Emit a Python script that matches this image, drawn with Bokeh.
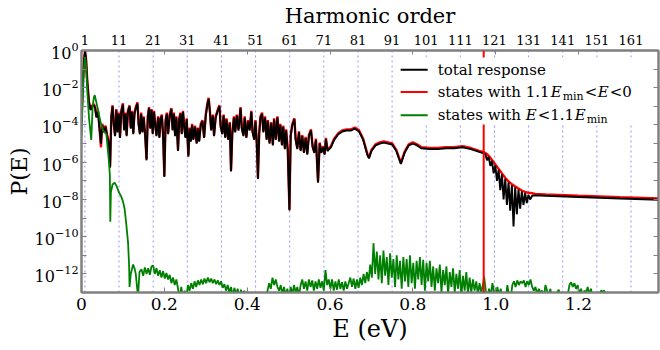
import numpy as np
from bokeh.plotting import figure
from bokeh.models import (FixedTicker, LinearAxis, LogAxis, Span, Label, BoxAnnotation,
                          Arrow, CustomJSTickFormatter, Range1d, LogTickFormatter)
from bokeh.embed import file_html
from bokeh.resources import INLINE

# ---------------- data ----------------
energy_total = [
    0.000, 0.003, 0.006, 0.0085, 0.011, 0.014, 0.018, 0.022, 0.026, 0.030,
    0.033, 0.036, 0.040, 0.043, 0.047, 0.050, 0.054, 0.058, 0.062, 0.066,
    0.069, 0.072, 0.075, 0.078, 0.081, 0.084, 0.087, 0.090, 0.093, 0.096,
    0.100, 0.103, 0.106, 0.109, 0.112, 0.116, 0.119, 0.122, 0.125, 0.128,
    0.131, 0.135, 0.138, 0.141, 0.144, 0.147, 0.150, 0.154, 0.157, 0.160,
    0.163, 0.166, 0.169, 0.172, 0.175, 0.178, 0.181, 0.185, 0.188, 0.191,
    0.194, 0.197, 0.200, 0.203, 0.206, 0.209, 0.213, 0.217, 0.220, 0.223,
    0.226, 0.229, 0.233, 0.236, 0.239, 0.242, 0.245, 0.248, 0.251, 0.254,
    0.258, 0.261, 0.264, 0.267, 0.270, 0.274, 0.278, 0.281, 0.284, 0.288,
    0.292, 0.296, 0.300, 0.304, 0.307, 0.310, 0.313, 0.317, 0.320, 0.324,
    0.328, 0.333, 0.336, 0.340, 0.343, 0.347, 0.350, 0.354, 0.358, 0.361,
    0.364, 0.368, 0.371, 0.375, 0.379, 0.384, 0.387, 0.391, 0.394, 0.398,
    0.402, 0.406, 0.410, 0.413, 0.417, 0.420, 0.423, 0.426, 0.429, 0.432,
    0.436, 0.439, 0.443, 0.447, 0.450, 0.454, 0.458, 0.462, 0.465, 0.469,
    0.473, 0.477, 0.480, 0.484, 0.487, 0.491, 0.494, 0.498, 0.502, 0.505,
    0.509, 0.514, 0.517, 0.521, 0.525, 0.529, 0.533, 0.537, 0.541, 0.545,
    0.549, 0.554, 0.558, 0.562, 0.566, 0.571, 0.575, 0.579, 0.583, 0.587,
    0.590, 0.594, 0.598, 0.602, 0.610, 0.620, 0.630, 0.640, 0.650, 0.660,
    0.670, 0.680, 0.690, 0.694, 0.700, 0.710, 0.720, 0.730, 0.740, 0.750,
    0.760, 0.771, 0.780, 0.790, 0.800, 0.810, 0.820, 0.840, 0.860, 0.880,
    0.900, 0.920, 0.940, 0.960, 0.971, 0.975, 0.979, 0.983, 0.987, 0.991,
    0.995, 0.999, 1.003, 1.007, 1.011, 1.015, 1.019, 1.023, 1.027, 1.031,
    1.035, 1.039, 1.043, 1.047, 1.051, 1.055, 1.059, 1.063, 1.067, 1.071,
    1.075, 1.079, 1.083, 1.088, 1.095, 1.120, 1.200, 1.300, 1.395,
]

# log10 of P(E), total response (black)
log10_total = [
    -3.8, -1.9, -0.6, -0.05, -0.5, -1.7, -2.8, -3.2, -3.0, -2.95,
    -3.1, -3.6, -3.3, -4.1, -5.0, -4.0, -4.4, -4.1, -4.6, -5.0,
    -6.3, -3.6, -3.0, -4.0, -4.6, -3.2, -4.4, -3.4, -4.7, -3.3,
    -2.9, -4.3, -3.4, -4.6, -3.3, -3.0, -4.2, -3.3, -4.5, -3.4,
    -3.1, -2.85, -4.0, -4.5, -3.4, -4.4, -3.6, -4.7, -5.9, -3.6,
    -3.1, -4.2, -3.2, -4.5, -3.3, -4.0, -4.6, -3.6, -4.7, -3.7,
    -3.5, -4.6, -6.8, -3.8, -3.4, -4.5, -3.5, -3.15, -4.3, -3.4,
    -4.6, -3.6, -5.4, -3.7, -3.4, -4.5, -3.3, -4.1, -4.7, -3.7,
    -5.7, -4.2, -4.9, -4.0, -4.8, -4.1, -5.0, -4.2, -4.9, -4.0,
    -3.8, -4.7, -3.5, -2.9, -2.6, -3.3, -4.3, -3.5, -4.6, -3.6,
    -3.3, -3.0, -4.1, -4.5, -3.5, -4.7, -3.7, -4.8, -3.9, -6.5,
    -4.5, -3.6, -4.4, -3.5, -4.3, -3.1, -4.2, -4.6, -3.6, -4.7,
    -3.8, -4.3, -3.3, -4.4, -4.8, -3.8, -4.9, -6.9, -4.5, -3.6,
    -3.4, -4.4, -3.6, -4.8, -3.8, -5.0, -3.9, -5.1, -3.7, -4.8,
    -3.6, -4.9, -4.0, -5.1, -4.1, -5.3, -4.3, -5.4, -8.6, -4.6,
    -4.0, -3.7, -4.8, -5.3, -4.4, -5.4, -4.6, -5.5, -4.7, -5.6,
    -4.6, -4.3, -5.2, -5.5, -4.8, -7.1, -5.0, -5.5, -5.2, -5.6,
    -4.75, -5.4, -5.3, -5.2, -4.8, -4.5, -4.35, -4.3, -4.3, -4.2,
    -4.35, -4.8, -5.6, -5.8, -5.4, -5.1, -5.0, -4.95, -5.0, -5.05,
    -5.4, -6.1, -5.5, -5.1, -5.0, -5.1, -5.25, -5.3, -5.3, -5.25,
    -5.25, -5.2, -5.3, -5.45, -5.52, -5.57, -5.9, -5.72, -6.2, -5.93,
    -6.6, -6.17, -7.0, -6.41, -7.5, -6.65, -8.0, -6.89, -8.3, -7.08,
    -8.6, -7.23, -9.45, -7.35, -8.8, -7.47, -8.5, -7.57, -8.3, -7.65,
    -8.2, -7.75, -8.0, -7.8, -7.78, -7.8, -7.87, -7.95, -8.02,
]

# log10 of P(E), states with 1.1 E_min < E < 0 (red)
log10_excited = [
    -3.7, -1.8, -0.55, -0.02, -0.45, -1.65, -2.75, -3.15, -2.95, -2.88,
    -3.04, -3.54, -3.24, -4.04, -5.2, -3.94, -4.34, -4.04, -4.54, -4.94,
    -6.24, -3.54, -2.94, -3.94, -4.54, -3.14, -4.34, -3.34, -4.64, -3.24,
    -2.84, -4.24, -3.34, -4.54, -3.24, -2.94, -4.14, -3.24, -4.44, -3.34,
    -3.04, -2.79, -3.94, -4.44, -3.34, -4.34, -3.54, -4.64, -5.84, -3.54,
    -3.04, -4.14, -3.14, -4.44, -3.24, -3.94, -4.54, -3.54, -4.64, -3.64,
    -3.44, -4.54, -6.74, -3.74, -3.34, -4.44, -3.44, -3.09, -4.24, -3.34,
    -4.54, -3.54, -5.34, -3.64, -3.34, -4.44, -3.24, -4.04, -4.64, -3.64,
    -5.64, -4.14, -4.84, -3.94, -4.74, -4.04, -4.94, -4.14, -4.84, -3.94,
    -3.74, -4.64, -3.44, -2.84, -2.54, -3.24, -4.24, -3.44, -4.54, -3.54,
    -3.24, -2.94, -4.04, -4.44, -3.44, -4.64, -3.64, -4.74, -3.84, -6.44,
    -4.44, -3.54, -4.34, -3.44, -4.24, -3.04, -4.14, -4.54, -3.54, -4.64,
    -3.74, -4.24, -3.24, -4.34, -4.74, -3.74, -4.84, -6.84, -4.44, -3.54,
    -3.34, -4.34, -3.54, -4.74, -3.74, -4.94, -3.84, -5.04, -3.64, -4.74,
    -3.54, -4.84, -3.94, -5.04, -4.04, -5.24, -4.24, -5.34, -8.54, -4.54,
    -3.94, -3.64, -4.74, -5.24, -4.34, -5.34, -4.54, -5.44, -4.64, -5.54,
    -4.54, -4.24, -5.14, -5.44, -4.74, -7.04, -4.94, -5.44, -5.14, -5.54,
    -4.69, -5.34, -5.24, -5.14, -4.74, -4.44, -4.29, -4.24, -4.24, -4.14,
    -4.29, -4.74, -5.54, -5.74, -5.34, -5.04, -4.94, -4.89, -4.94, -4.99,
    -5.34, -6.04, -5.44, -5.04, -4.94, -5.04, -5.19, -5.24, -5.24, -5.19,
    -5.19, -5.14, -5.24, -5.39, -5.46, -5.51, -5.57, -5.66, -5.76, -5.88,
    -6.0, -6.12, -6.24, -6.36, -6.48, -6.6, -6.72, -6.84, -6.95, -7.03,
    -7.11, -7.18, -7.24, -7.3, -7.36, -7.42, -7.47, -7.52, -7.56, -7.6,
    -7.62, -7.64, -7.65, -7.67, -7.7, -7.73, -7.8, -7.88, -7.95,
]

energy_ground = [
    0.000, 0.003, 0.006, 0.0085, 0.011, 0.014, 0.018, 0.0235, 0.027, 0.030,
    0.032, 0.036, 0.040, 0.0466, 0.052, 0.056, 0.060, 0.063, 0.066, 0.0685,
    0.0695, 0.071, 0.075, 0.080, 0.085, 0.090, 0.096, 0.100, 0.104, 0.108,
    0.1125, 0.115, 0.116, 0.119, 0.1245, 0.128, 0.131, 0.1345, 0.1365, 0.140,
    0.1446, 0.149, 0.153, 0.157, 0.161, 0.165, 0.169, 0.173, 0.177, 0.181,
    0.185, 0.189, 0.193, 0.197, 0.201, 0.205, 0.209, 0.213, 0.217, 0.221,
    0.225, 0.229, 0.233, 0.237, 0.241, 0.245, 0.249, 0.253, 0.257, 0.261,
    0.265, 0.269, 0.273, 0.277, 0.281, 0.285, 0.289, 0.293, 0.297, 0.301,
    0.305, 0.309, 0.313, 0.317, 0.321, 0.325, 0.329, 0.333, 0.337, 0.341,
    0.345, 0.349, 0.353, 0.357, 0.361, 0.365, 0.369, 0.373, 0.377, 0.381,
    0.385, 0.389, 0.393, 0.397, 0.401, 0.405, 0.410, 0.420, 0.430, 0.445,
    0.449, 0.453, 0.457, 0.461, 0.465, 0.469, 0.473, 0.477, 0.481, 0.485,
    0.489, 0.493, 0.497, 0.501, 0.505, 0.509, 0.513, 0.517, 0.521, 0.525,
    0.529, 0.533, 0.537, 0.541, 0.545, 0.549, 0.553, 0.557, 0.561, 0.565,
    0.569, 0.573, 0.577, 0.581, 0.585, 0.589, 0.593, 0.597, 0.601, 0.605,
    0.609, 0.613, 0.617, 0.621, 0.625, 0.629, 0.633, 0.637, 0.641, 0.645,
    0.649, 0.653, 0.657, 0.661, 0.665, 0.669, 0.673, 0.677, 0.681, 0.685,
    0.689, 0.693, 0.697, 0.701, 0.705, 0.709, 0.713, 0.717, 0.721, 0.725,
    0.729, 0.733, 0.737, 0.741, 0.745, 0.749, 0.753, 0.757, 0.761, 0.765,
    0.769, 0.773, 0.777, 0.781, 0.785, 0.789, 0.793, 0.797, 0.801, 0.805,
    0.809, 0.813, 0.817, 0.821, 0.825, 0.829, 0.833, 0.837, 0.841, 0.845,
    0.849, 0.853, 0.857, 0.861, 0.865, 0.869, 0.873, 0.877, 0.881, 0.885,
    0.889, 0.893, 0.897, 0.901, 0.905, 0.909, 0.913, 0.917, 0.921, 0.925,
    0.929, 0.933, 0.937, 0.941, 0.945, 0.949, 0.953, 0.957, 0.961, 0.965,
    0.969, 0.972, 0.976, 0.980, 0.984, 0.988, 0.992, 0.996, 1.000, 1.004,
    1.008, 1.012, 1.016, 1.020, 1.024, 1.028, 1.032, 1.036, 1.040, 1.044,
    1.048, 1.052, 1.056, 1.060, 1.064, 1.068, 1.072, 1.076, 1.080, 1.084,
    1.088, 1.092, 1.096, 1.100, 1.104, 1.108, 1.112, 1.116, 1.120, 1.124,
    1.128, 1.132, 1.136, 1.142, 1.148, 1.152, 1.156, 1.160, 1.168, 1.174,
    1.178, 1.182, 1.186, 1.190, 1.194, 1.198, 1.202, 1.206, 1.210, 1.214,
    1.218, 1.222, 1.226, 1.230, 1.234, 1.240, 1.250, 1.254, 1.258, 1.262,
    1.266, 1.272, 1.300, 1.395,
]

# log10 of P(E), states with E < 1.1 E_min (green)
log10_ground = [
    -4.6, -2.5, -0.9, -0.35, -0.8, -2.2, -3.6, -4.8, -3.0, -2.5,
    -2.4, -2.8, -3.2, -3.9, -4.3, -4.4, -4.5, -5.2, -5.9, -6.7,
    -9.2, -7.6, -7.2, -7.1, -7.3, -7.6, -7.85, -8.1, -8.5, -9.3,
    -10.35, -11.6, -12.7, -12.0, -11.5, -11.7, -12.0, -12.8, -13.2, -11.9,
    -11.75, -12.1, -11.65, -12.0, -11.7, -12.05, -11.6, -11.55, -12.0, -11.7,
    -12.1, -11.8, -12.2, -11.85, -12.25, -11.95, -12.3, -12.05, -12.5, -12.2,
    -12.6, -12.3, -12.8, -13.3, -12.7, -13.4, -12.9, -13.3, -12.6, -12.9,
    -12.5, -12.8, -12.4, -12.7, -12.35, -12.6, -12.3, -12.55, -12.25, -12.5,
    -12.2, -12.45, -12.25, -12.5, -12.3, -12.55, -12.35, -12.6, -12.4, -12.75,
    -12.55, -12.9, -12.6, -13.0, -12.7, -13.2, -12.75, -13.1, -12.8, -13.3,
    -12.85, -13.2, -12.9, -13.4, -12.95, -13.5, -13.6, -13.6, -13.6, -13.5,
    -12.9, -12.5, -12.8, -12.2, -12.6, -12.3, -12.7, -12.9, -12.6, -13.1,
    -12.7, -13.2, -12.8, -13.3, -12.7, -13.1, -12.6, -13.0, -12.7, -13.2,
    -12.6, -12.3, -12.8, -12.4, -12.9, -12.3, -12.7, -12.35, -12.9, -12.4,
    -12.8, -12.3, -12.75, -12.4, -12.9, -11.8, -12.6, -12.3, -12.8, -12.3,
    -12.9, -12.4, -12.85, -12.3, -12.8, -12.45, -12.9, -12.4, -12.8, -12.5,
    -12.2, -12.7, -12.25, -12.8, -12.3, -12.75, -12.2, -12.6, -12.0, -12.5,
    -11.9, -12.4, -11.5, -12.2, -10.35, -12.0, -10.8, -12.3, -11.0, -12.5,
    -10.75, -12.1, -11.1, -12.6, -10.9, -12.2, -11.2, -12.7, -11.0, -12.3,
    -11.3, -12.8, -11.1, -12.4, -11.2, -12.7, -11.0, -12.5, -11.4, -12.8,
    -11.3, -12.3, -11.1, -12.6, -11.25, -12.9, -11.4, -12.4, -11.3, -12.7,
    -11.6, -12.9, -11.7, -12.5, -11.5, -13.0, -11.8, -12.6, -11.6, -13.1,
    -11.9, -12.7, -11.7, -13.0, -12.0, -12.8, -11.8, -13.2, -12.1, -12.9,
    -11.9, -13.1, -12.2, -13.0, -12.3, -12.9, -12.4, -13.1, -12.5, -13.0,
    -12.6, -12.15, -12.9, -13.3, -12.8, -13.2, -12.5, -13.0, -13.4, -12.7,
    -13.2, -12.8, -13.3, -13.0, -13.5, -12.6, -13.1, -13.4, -12.6, -12.4,
    -12.7, -12.35, -12.6, -12.4, -12.5, -12.35, -12.7, -12.4, -12.6, -12.3,
    -12.7, -12.9, -12.7, -13.1, -12.8, -13.0, -12.9, -13.3, -12.6, -12.9,
    -13.2, -12.8, -13.5, -13.6, -13.0, -12.85, -13.2, -13.6, -13.6, -13.1,
    -12.6, -12.45, -12.7, -12.5, -12.8, -12.6, -13.1, -12.8, -13.2, -12.9,
    -13.0, -12.7, -13.1, -12.8, -13.3, -13.6, -13.2, -12.9, -12.95, -12.9,
    -13.3, -13.7, -14.0, -14.0,
]

harmonic_orders = list(range(1, 162, 10))     # 1, 11, ..., 161
photon_energy = 0.00824                       # eV per harmonic order
cutoff_energy = 0.971                         # eV (red vertical line)
energy_ticks = [0.0, 0.2, 0.4, 0.6, 0.8, 1.0, 1.2]
p_major_ticks = [10.0 ** -k for k in range(0, 13, 2)]
p_minor_ticks = [10.0 ** -k for k in range(1, 14, 2)]

assert len(energy_total) == len(log10_total) == len(log10_excited)
assert len(energy_ground) == len(log10_ground)

p_total = [10.0 ** v for v in log10_total]
p_excited = [10.0 ** v for v in log10_excited]
p_ground = [10.0 ** v for v in log10_ground]

FONT = "DejaVu Serif"
GREY = "#808080"

p = figure(width=660, height=350, x_range=Range1d(0, 1.393), y_range=Range1d(1e-13, 1.0),
           y_axis_type="log", output_backend="svg", toolbar_location=None,
           min_border_left=81, min_border_right=2, min_border_top=50, min_border_bottom=58,
           background_fill_color="white", border_fill_color="white")
p.grid.visible = False
p.outline_line_color = GREY
p.outline_line_width = 2

# harmonic dotted lines
for n in harmonic_orders:
    p.add_layout(Span(location=n * photon_energy, dimension="height", line_color="#7b7bff",
                      line_alpha=0.8, line_dash="2 3", line_width=1, level="underlay"))

# curves
p.line(energy_total, p_excited, line_color="#ff0000", line_width=2.4)
p.line(energy_total, p_total, line_color="#000000", line_width=1.9)
p.line(energy_ground, p_ground, line_color="#008000", line_width=1.8)

# cutoff line
p.add_layout(Span(location=cutoff_energy, dimension="height", line_color="#ff0000", line_width=2))

# axes
xa = p.xaxis[0]
xa.ticker = FixedTicker(ticks=energy_ticks)
xa.formatter = CustomJSTickFormatter(code="return tick == 0 ? '0' : tick.toFixed(1);")
xa.axis_label = "E (eV)"
ya = p.yaxis[0]
ya.ticker = FixedTicker(ticks=p_major_ticks, minor_ticks=p_minor_ticks)
ya.formatter = LogTickFormatter()
ya.axis_label = "P(E)"

for ax in (xa, ya):
    ax.axis_line_color = GREY
    ax.axis_line_width = 2
    ax.major_tick_line_color = GREY
    ax.minor_tick_line_color = GREY
    ax.major_tick_in = 5
    ax.major_tick_out = 0
    ax.minor_tick_in = 5
    ax.minor_tick_out = 0
    ax.major_label_text_font = FONT
    ax.major_label_text_font_size = "17px"
    ax.major_label_text_color = "black"
    ax.axis_label_text_font = FONT
    ax.axis_label_text_font_size = "24px"
    ax.axis_label_text_font_style = "normal"
    ax.axis_label_text_color = "black"
xa.major_label_standoff = 5
xa.axis_label_standoff = 2
ya.major_label_text_font_size = "16px"
ya.axis_label_text_font_size = "22px"
ya.major_label_standoff = 3
ya.axis_label_standoff = 0

top = LinearAxis(
    ticker=FixedTicker(ticks=[n * photon_energy for n in harmonic_orders], minor_ticks=energy_ticks),
    formatter=CustomJSTickFormatter(args=dict(w=photon_energy), code="return String(Math.round(tick / w));"),
    axis_label="Harmonic order",
    axis_line_color=GREY, axis_line_width=2,
    major_tick_in=0, major_tick_out=0,
    minor_tick_in=4, minor_tick_out=0, minor_tick_line_color=GREY,
    major_label_standoff=6, major_label_text_font=FONT, major_label_text_font_size="13px",
    major_label_text_color="black",
    axis_label_text_font=FONT, axis_label_text_font_size="21px", axis_label_text_font_style="normal",
    axis_label_text_color="black", axis_label_standoff=4)
p.add_layout(top, "above")

right = LogAxis(ticker=FixedTicker(ticks=p_major_ticks, minor_ticks=p_minor_ticks),
                formatter=CustomJSTickFormatter(code="return '';"),
                axis_line_color=GREY, axis_line_width=2,
                major_tick_in=5, major_tick_out=0, minor_tick_in=5, minor_tick_out=0,
                major_tick_line_color=GREY, minor_tick_line_color=GREY,
                major_label_text_font_size="1px", major_label_standoff=0)
p.add_layout(right, "right")

# legend (hand built so that the sub-scripts and italics can be shown)
p.add_layout(BoxAnnotation(left=0.752, right=1.368, top=10 ** -0.38, bottom=10 ** -3.97,
                           fill_color="white", fill_alpha=1.0, line_color=None))
rows = [10 ** -1.03, 10 ** -2.23, 10 ** -3.48]
colors = ["#000000", "#ff0000", "#008000"]
for yy, c in zip(rows, colors):
    p.add_layout(Arrow(end=None, x_start=0.7705, x_end=0.8357, y_start=yy, y_end=yy,
                       line_color=c, line_width=2))

LX = 0.8598
def piece(text, row, dx, style="normal", size="15px", dy=0):
    p.add_layout(Label(x=LX, y=rows[row], x_offset=dx, y_offset=dy, text=text,
                       text_font=FONT, text_font_size=size, text_font_style=style,
                       text_baseline="middle", text_align="left", text_color="black"))

piece("total response", 0, 0)
piece("states with 1.1", 1, 0)
piece("E", 1, 113, "italic")
piece("min", 1, 125, size="11px", dy=-4)
piece("<", 1, 147)
piece("E", 1, 160, "italic")
piece("<0", 1, 172)
piece("states with", 2, 0)
piece("E", 2, 88, "italic")
piece("<1.1", 2, 100)
piece("E", 2, 137, "italic")
piece("min", 2, 149, size="11px", dy=-4)

open("out.html", "w").write(file_html(p, INLINE))
